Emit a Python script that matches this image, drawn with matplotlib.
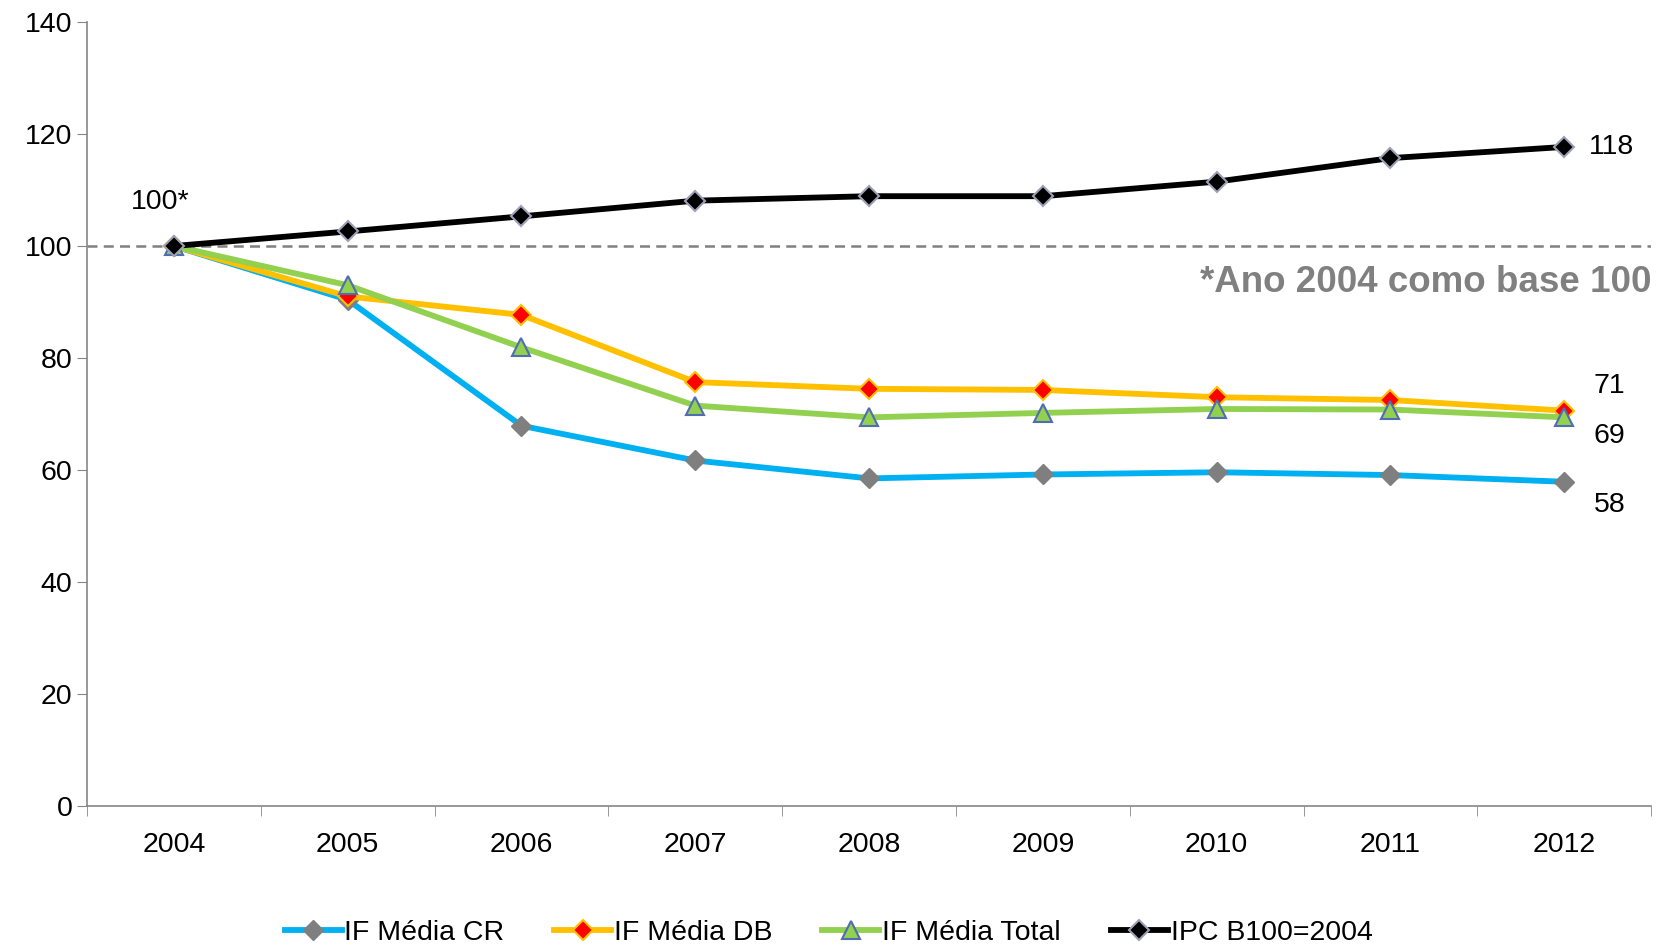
import numpy as np
import matplotlib
matplotlib.use("Agg")
import matplotlib.pyplot as plt

plt.rcParams['font.family'] = ['Liberation Sans', 'DejaVu Sans']

# dados (base 2004 = 100)
anos = ['2004', '2005', '2006', '2007', '2008', '2009', '2010', '2011', '2012']
if_media_cr = [100, 90.4, 67.9, 61.7, 58.5, 59.2, 59.6, 59.1, 57.9]
if_media_db = [100, 91.0, 87.7, 75.7, 74.5, 74.3, 73.0, 72.5, 70.6]
if_media_total = [100, 93.0, 81.9, 71.5, 69.4, 70.2, 70.9, 70.8, 69.4]
ipc_b100 = [100, 102.6, 105.3, 108.1, 108.9, 108.9, 111.5, 115.7, 117.7]

FS = 20.5

fig = plt.figure(figsize=(16.57, 9.46), dpi=100)
ax = fig.add_axes([0.0525, 0.148, 0.944, 0.8287])

x = np.arange(len(anos))

ax.axhline(100, color='#808080', linestyle=(0, (4, 2.5)), linewidth=1.8, zorder=1)

ax.plot(x, if_media_cr, color='#00B0F0', linewidth=4.2, marker='D', markersize=10,
        markerfacecolor='#7F7F7F', markeredgecolor='#7F7F7F', label='IF Média CR', zorder=3)
ax.plot(x, if_media_db, color='#FFC000', linewidth=4.2, marker='D', markersize=10,
        markerfacecolor='#FF0000', markeredgecolor='#FFC000', markeredgewidth=1.5,
        label='IF Média DB', zorder=3)
ax.plot(x, if_media_total, color='#92D050', linewidth=4.2, marker='^', markersize=13,
        markerfacecolor='#92D050', markeredgecolor='#4F6CB5', markeredgewidth=1.5,
        label='IF Média Total', zorder=4)
ax.plot(x, ipc_b100, color='#000000', linewidth=4.2, marker='D', markersize=10,
        markerfacecolor='#000000', markeredgecolor='#9FA0B8', markeredgewidth=1.5,
        label='IPC B100=2004', zorder=5)

# rótulos
ax.text(x[0] - 0.08, 105.5, '100*', fontsize=FS, ha='center', va='bottom')
ax.text(x[-1] + 0.14, ipc_b100[-1], '118', fontsize=FS, ha='left', va='center')
ax.text(x[-1] + 0.17, 75.0, '71', fontsize=FS, ha='left', va='center')
ax.text(x[-1] + 0.17, 66.0, '69', fontsize=FS, ha='left', va='center')
ax.text(x[-1] + 0.17, 53.8, '58', fontsize=FS, ha='left', va='center')
ax.text(8.5, 93.5, '*Ano 2004 como base 100', fontsize=26.5, fontweight='bold',
        color='#808080', ha='right', va='center')

ax.set_xlim(-0.5, 8.5)
ax.set_ylim(0, 140)
ax.set_yticks(range(0, 141, 20))
ax.set_xticks(x)
ax.set_xticklabels(anos)
ax.set_xticks(np.arange(-0.5, 9, 1), minor=True)
ax.tick_params(axis='x', which='major', length=0, labelsize=FS, pad=19)
ax.tick_params(axis='x', which='minor', length=7, color='#868686', direction='out')
ax.tick_params(axis='y', length=7, color='#868686', labelsize=FS, direction='out')

for s in ['top', 'right']:
    ax.spines[s].set_visible(False)
for s in ['left', 'bottom']:
    ax.spines[s].set_color('#868686')
    ax.spines[s].set_linewidth(1.2)

fig.legend(*ax.get_legend_handles_labels(), loc='center', bbox_to_anchor=(0.5, 0.014),
           ncol=4, frameon=False, fontsize=FS, handlelength=2.0, handletextpad=0.1,
           columnspacing=1.75, borderaxespad=0, borderpad=0)

fig.savefig('out.png', dpi=100)
